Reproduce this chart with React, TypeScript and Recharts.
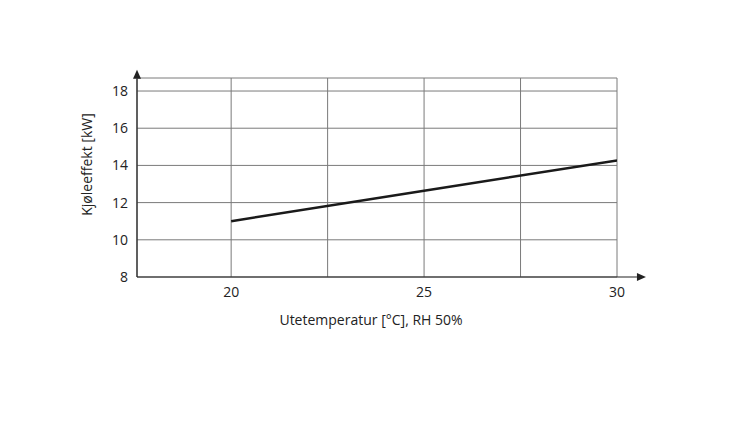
import React from 'react';
import { LineChart, Line, XAxis, YAxis, CartesianGrid, ReferenceLine, Label } from 'recharts';

const temps = [20, 25, 30];
const power = [11.0, 12.64, 14.27];
const xTicks = [20, 22.5, 25, 27.5, 30];
const xLabels = [20, 25, 30];
const yTicks = [8, 10, 12, 14, 16, 18];

const FONT = '"Open Sans", "DejaVu Sans", sans-serif';
const X_MIN = 17.56;

const chartData = temps.map((t, i) => ({ t, kw: power[i] }));

// axis line with a filled arrowhead at the far end
const ArrowAxis = (props: any) => {
  const { x1, y1, x2, y2 } = props;
  const dx = x2 - x1;
  const dy = y2 - y1;
  const len = Math.sqrt(dx * dx + dy * dy) || 1;
  const ux = dx / len;
  const uy = dy / len;
  const L = 9;
  const W = 4;
  const bx = x2 - ux * L;
  const by = y2 - uy * L;
  const pts = `${x2},${y2} ${bx - uy * W},${by + ux * W} ${bx + uy * W},${by - ux * W}`;
  return (
    <g>
      <line x1={x1} y1={y1} x2={bx} y2={by} stroke="#222" strokeWidth={1.2} />
      <polygon points={pts} fill="#222" />
    </g>
  );
};

const YTitle = (props: any) => {
  const { viewBox } = props;
  const cx = viewBox.x + 29.5;
  const cy = viewBox.y + viewBox.height / 2 - 13;
  return (
    <text
      x={cx}
      y={cy}
      transform={`rotate(-90, ${cx}, ${cy})`}
      textAnchor="middle"
      dominantBaseline="central"
      fontFamily={FONT}
      fontSize={14}
      fill="#222"
    >
      Kjøleeffekt [kW]
    </text>
  );
};

export default function App() {
  return (
    <div style={{ width: 734, height: 420, background: '#fff' }}>
      <LineChart
        width={734}
        height={420}
        data={chartData}
        margin={{ top: 70, right: 125, bottom: 91, left: 49 }}
      >
        <CartesianGrid stroke="#7a7a7a" strokeWidth={1} />
        <XAxis
          dataKey="t"
          type="number"
          domain={[X_MIN, 30]}
          ticks={xTicks}
          tickFormatter={(v: number) => (xLabels.includes(v) ? String(v) : '')}
          axisLine={false}
          tickLine={false}
          tickSize={6}
          tickMargin={4}
          height={60}
          tick={{ fill: '#222', fontSize: 14, fontFamily: FONT }}
          allowDataOverflow
        >
          <Label
            value="Utetemperatur [°C], RH 50%"
            position="insideBottom"
            offset={12}
            dx={-6}
            style={{ fill: '#222', fontSize: 14, fontFamily: FONT }}
          />
        </XAxis>
        <YAxis
          type="number"
          domain={[8, 18.7]}
          ticks={yTicks}
          axisLine={false}
          tickLine={false}
          tickSize={6}
          tickMargin={3}
          width={80}
          allowDataOverflow
          tick={{ fill: '#222', fontSize: 14, fontFamily: FONT }}
        >
          <Label content={<YTitle />} />
        </YAxis>
        <ReferenceLine
          segment={[{ x: X_MIN, y: 8 }, { x: 30.75, y: 8 }]}
          ifOverflow="visible"
          shape={<ArrowAxis />}
        />
        <ReferenceLine
          segment={[{ x: X_MIN, y: 8 }, { x: X_MIN, y: 19.15 }]}
          ifOverflow="visible"
          shape={<ArrowAxis />}
        />
        <Line
          type="linear"
          dataKey="kw"
          stroke="#1a1a1a"
          strokeWidth={2.5}
          dot={false}
          activeDot={false}
          isAnimationActive={false}
        />
      </LineChart>
    </div>
  );
}
